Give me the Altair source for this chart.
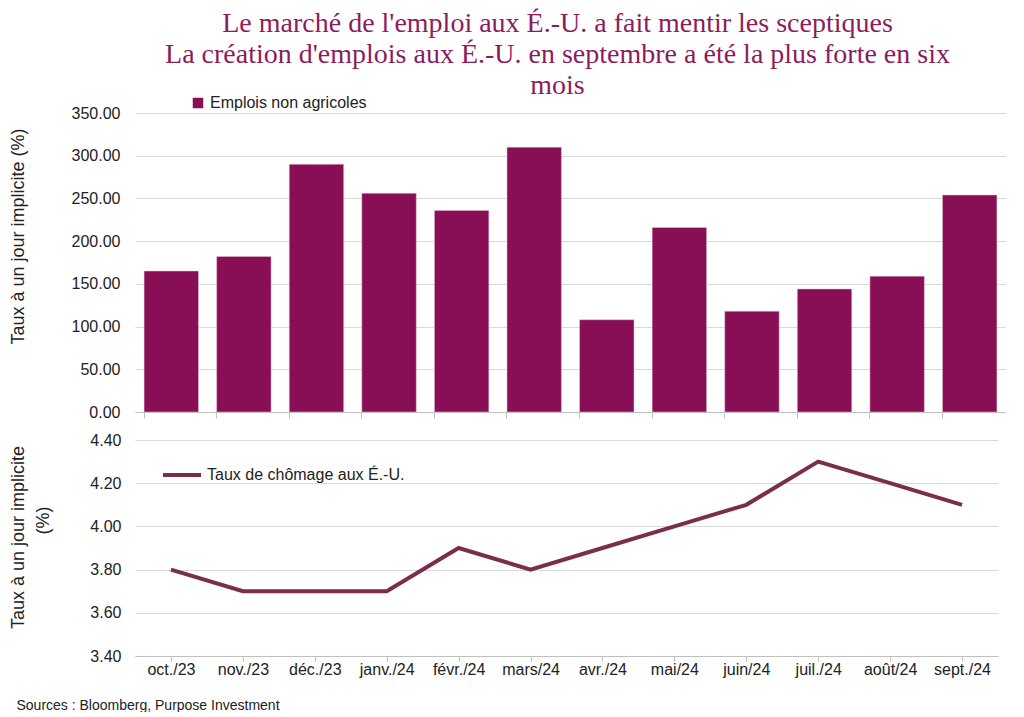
import altair as alt
import pandas as pd

months = ["oct./23", "nov./23", "déc./23", "janv./24", "févr./24", "mars/24",
          "avr./24", "mai/24", "juin/24", "juil./24", "août/24", "sept./24"]
payrolls = [165, 182, 290, 256, 236, 310, 108, 216, 118, 144, 159, 254]
unemployment = [3.8, 3.7, 3.7, 3.7, 3.9, 3.8, 3.9, 4.0, 4.1, 4.3, 4.2, 4.1]

bar_series = "Emplois non agricoles"
line_series = "Taux de chômage aux É.-U."
bar_color = "#880E55"
line_color = "#7A2E4E"
title_color = "#8C1C5E"
grid_color = "#D9D9D9"
axis_color = "#BFBFBF"
font = "Liberation Sans"

df = pd.DataFrame({
    "mois": months,
    "emplois": payrolls,
    "chomage": unemployment,
    "s_bar": [bar_series] * len(months),
    "s_line": [line_series] * len(months),
})

band = alt.Scale(paddingInner=0.25, paddingOuter=0.125)
rate_scale = alt.Scale(domain=[3.4, 4.4], nice=False, zero=False)

top = alt.Chart(df).mark_bar(stroke="#E8C6D8", strokeWidth=0.5).encode(
    x=alt.X("mois:N", sort=months, scale=band,
            axis=alt.Axis(title=None, labels=False, ticks=True, tickSize=6,
                          tickColor=axis_color, domainColor=axis_color,
                          bandPosition=0, grid=False)),
    y=alt.Y("emplois:Q",
            scale=alt.Scale(domain=[0, 350], nice=False),
            axis=alt.Axis(title="Taux à un jour implicite (%)",
                          values=[0, 50, 100, 150, 200, 250, 300, 350],
                          format=".2f", grid=True, gridColor=grid_color,
                          domain=False, ticks=False, labelPadding=15,
                          titleX=-117, titleY=123, titleBaseline="middle",
                          titleAngle=270)),
    color=alt.Color("s_bar:N",
                    scale=alt.Scale(domain=[bar_series], range=[bar_color]),
                    legend=alt.Legend(title=None, orient="none",
                                      legendX=55, legendY=-18,
                                      symbolType="square", symbolSize=110,
                                      symbolStrokeWidth=0,
                                      labelFontSize=16, labelFont=font,
                                      labelColor="#222222", labelLimit=400)),
).properties(width=871, height=299)

line = alt.Chart(df).mark_line(strokeWidth=4).encode(
    x=alt.X("mois:N", sort=months, scale=band,
            axis=alt.Axis(title="Sources : Bloomberg, Purpose Investment",
                          titleAnchor="start", titleAlign="left", titleX=-119,
                          titleFontSize=14, titleFontWeight="normal",
                          titlePadding=21,
                          labelAngle=0, labelPadding=0, ticks=True, tickSize=5,
                          tickColor=axis_color, domainColor=axis_color,
                          bandPosition=0, grid=False)),
    y=alt.Y("chomage:Q", scale=rate_scale,
            axis=alt.Axis(title="Taux à un jour implicite",
                          values=[3.4, 3.6, 3.8, 4.0, 4.2, 4.4],
                          format=".2f", grid=True, gridColor=grid_color,
                          domain=False, ticks=False, labelPadding=14,
                          titleX=-117, titleY=97, titleBaseline="middle",
                          titleAngle=270)),
    color=alt.Color("s_line:N",
                    scale=alt.Scale(domain=[line_series], range=[line_color]),
                    legend=alt.Legend(title=None, orient="none",
                                      legendX=26, legendY=14,
                                      symbolType="stroke", symbolSize=1444,
                                      symbolStrokeWidth=4,
                                      labelFontSize=16, labelFont=font,
                                      labelColor="#222222", labelLimit=400)),
)

pct = alt.Chart(df).mark_line(strokeOpacity=0).encode(
    x=alt.X("mois:N", sort=months, scale=band),
    y=alt.Y("chomage:Q", scale=rate_scale,
            axis=alt.Axis(orient="left", title="(%)", labels=False,
                          ticks=False, domain=False, grid=False,
                          titleX=-92, titleY=80, titleBaseline="middle",
                          titleAngle=270)),
)

bottom = alt.layer(line, pct).resolve_scale(y="independent").properties(
    width=863, height=216)

chart = alt.concat(top, bottom, columns=1, align="none", spacing=12).resolve_scale(
    color="independent"
).resolve_legend(color="independent").properties(
    title=alt.TitleParams(
        text=["Le marché de l'emploi aux É.-U. a fait mentir les sceptiques",
              "La création d'emplois aux É.-U. en septembre a été la plus forte en six",
              "mois"],
        font="Liberation Serif", fontSize=28, fontWeight="normal",
        color=title_color, lineHeight=31, anchor="middle", dx=50, offset=-5,
    ),
    padding={"left": 0, "top": 2, "right": 0, "bottom": 0},
).configure_view(stroke=None).configure_axis(
    labelFont=font, labelFontSize=16, labelColor="#222222",
    titleFont=font, titleFontSize=18, titleFontWeight="normal",
    titleColor="#222222",
).configure_legend(labelFont=font)

chart.save("out.html", embed_options={"renderer": "svg", "actions": False})
